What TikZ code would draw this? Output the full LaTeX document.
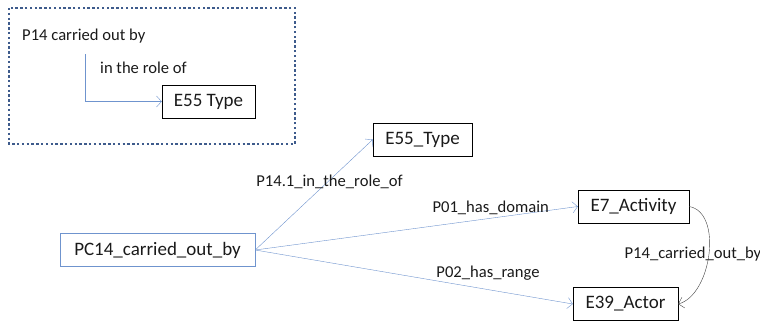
\documentclass[tikz,border=0pt]{standalone}
\usepackage{fontspec}
\setmainfont{Carlito}
\usetikzlibrary{arrows.meta}

\definecolor{linkblue}{HTML}{6F94CE}
\definecolor{framenavy}{HTML}{3E5B8C}
\definecolor{curvegrey}{HTML}{404040}
\definecolor{inkblack}{HTML}{1A1A1A}

\tikzstyle{entity}=[draw=black,thin,rectangle,minimum height=33pt,inner sep=0pt,text=inkblack,font=\fontsize{19}{22}\selectfont]
\tikzstyle{pclass}=[entity,draw=linkblue]
\tikzstyle{link} = [draw,linkblue,thin,-{Straight Barb[length=5pt,width=11pt]}]
\tikzstyle{weight} = [font=\fontsize{16.6}{19}\selectfont,inner sep=1pt,text=inkblack]
\newcommand{\pxunit}{1pt}

\begin{document}
\begin{tikzpicture}[x=\pxunit, y=-\pxunit]
    \useasboundingbox (0,0) rectangle (760,322);
    % legend in the dotted frame
    \draw[framenavy,line width=2.4pt,dash pattern=on 2.4pt off 2.4pt] (9,8) rectangle (295,144);
    \node[weight,anchor=west] (lp14) at (21,35.7) {P14 carried out by};
    \node[weight,anchor=west] (lrole) at (99,67.5) {in the role of};
    \node[entity,minimum width=93pt] (ltype) at (208.5,101.5) {E55 Type};
    \draw[link] ([xshift=1pt,yshift=-10pt]lp14.south) |- (ltype);
    % First we draw the classes
    \node[pclass,minimum width=195pt] (pc14) at (157.5,250) {PC14\_carried\_out\_by};
    \foreach \pos/\name/\boxw/\txt in {{(422.5,139.5)/type/99/E55\_Type}, {(633.5,206.5)/act/111/E7\_Activity}, {(625.5,304)/actor/105/E39\_Actor}}
        \node[entity,minimum width=\boxw pt] (\name) at \pos {\txt};
    % Connect classes with properties and draw names
    \path[link] (pc14.east) -- node[weight,pos=0.615,xshift=2pt] {P14.1\_in\_the\_role\_of} (type.west);
    \foreach \dest/\where/\gap/\weight in {act/0.73/2/P01\_has\_domain, actor/0.733/8/P02\_has\_range}
        \path[link] (pc14.east) -- node[weight,pos=\where,above=\gap pt] {\weight} (\dest.west);
    \path[link,curvegrey] (act.east) to[out=-10,in=15,looseness=0.9] node[weight,midway,xshift=-16pt] {P14\_carried\_out\_by} (actor.east);
\end{tikzpicture}
\end{document}
